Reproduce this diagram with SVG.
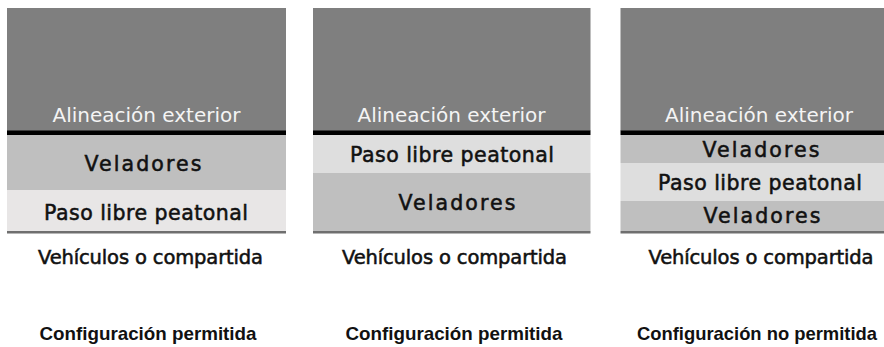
<svg xmlns="http://www.w3.org/2000/svg" width="884" height="347" viewBox="0 0 884 347">
<style>
.top{fill:#7f7f7f}
.edge{fill:#000}
.vel{fill:#bfbfbf}
.paso{fill:#dedede}
.paso1{fill:#e8e6e6}
.base{fill:#6f6f6f}
.t{font-family:"DejaVu Sans","Liberation Sans",sans-serif;font-size:20px;text-anchor:middle}
.w{fill:#f4f4f4}
.d{fill:#111;stroke:#111;stroke-width:0.55px;font-size:20.5px}
.v{font-size:19.5px}
.cap{font-family:"Liberation Sans",Arial,sans-serif;font-weight:bold;font-size:19px;text-anchor:middle;fill:#111}
</style>
<rect width="884" height="347" fill="#fff"/>
<g id="panel1">
<rect class="top" x="7" y="8" width="279" height="123"/>
<rect class="edge" x="7" y="130.5" width="279" height="4.5"/>
<rect class="vel" x="7" y="135" width="279" height="55"/>
<rect class="paso1" x="7" y="190" width="279" height="41"/>
<rect class="base" x="7" y="231" width="279" height="2.5"/>
<text class="t w" x="146.5" y="122" textLength="188" lengthAdjust="spacing">Alineación exterior</text>
<text class="t d" x="143" y="171" textLength="117" lengthAdjust="spacing">Veladores</text>
<text class="t d" x="146" y="220" textLength="204" lengthAdjust="spacing">Paso libre peatonal</text>
<text class="t d v" x="150.5" y="264" textLength="225" lengthAdjust="spacing">Vehículos o compartida</text>
<text class="cap" x="148" y="340" textLength="217" lengthAdjust="spacingAndGlyphs">Configuración permitida</text>
</g>
<g id="panel2">
<rect class="top" x="313" y="8" width="277.5" height="123"/>
<rect class="edge" x="313" y="130.5" width="277.5" height="4.5"/>
<rect class="paso" x="313" y="135" width="277.5" height="38"/>
<rect class="vel" x="313" y="173" width="277.5" height="58"/>
<rect class="base" x="313" y="231" width="277.5" height="2.5"/>
<text class="t w" x="451.5" y="122" textLength="188" lengthAdjust="spacing">Alineación exterior</text>
<text class="t d" x="452" y="161.5" textLength="204" lengthAdjust="spacing">Paso libre peatonal</text>
<text class="t d" x="457" y="210" textLength="117" lengthAdjust="spacing">Veladores</text>
<text class="t d v" x="454.5" y="264" textLength="225" lengthAdjust="spacing">Vehículos o compartida</text>
<text class="cap" x="454" y="340" textLength="217" lengthAdjust="spacingAndGlyphs">Configuración permitida</text>
</g>
<g id="panel3">
<rect class="top" x="620.5" y="8" width="263.5" height="123"/>
<rect class="edge" x="620.5" y="130.5" width="263.5" height="4.5"/>
<rect class="vel" x="620.5" y="135" width="263.5" height="28"/>
<rect class="paso" x="620.5" y="163" width="263.5" height="38"/>
<rect class="vel" x="620.5" y="201" width="263.5" height="30"/>
<rect class="base" x="620.5" y="231" width="263.5" height="2.5"/>
<text class="t w" x="759" y="122" textLength="188" lengthAdjust="spacing">Alineación exterior</text>
<text class="t d" x="761" y="157" textLength="117" lengthAdjust="spacing">Veladores</text>
<text class="t d" x="760" y="190" textLength="204" lengthAdjust="spacing">Paso libre peatonal</text>
<text class="t d" x="762" y="223" textLength="117" lengthAdjust="spacing">Veladores</text>
<text class="t d v" x="761" y="264" textLength="225" lengthAdjust="spacing">Vehículos o compartida</text>
<text class="cap" x="757" y="340" textLength="240" lengthAdjust="spacingAndGlyphs">Configuración no permitida</text>
</g>
</svg>
